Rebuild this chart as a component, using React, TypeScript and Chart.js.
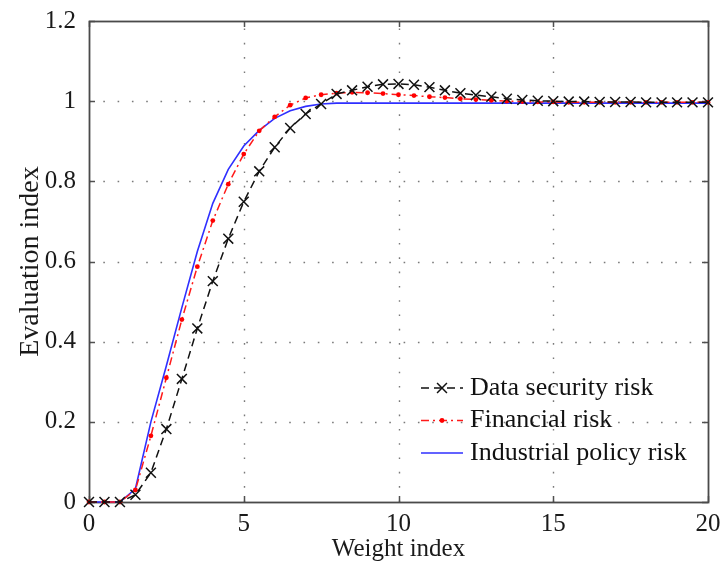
import React, { useEffect, useRef } from 'react';
import { Chart, registerables } from 'chart.js';

Chart.register(...registerables);

const xValues = [
  0, 0.5, 1, 1.5, 2, 2.5, 3, 3.5, 4, 4.5, 5, 5.5, 6, 6.5, 7, 7.5, 8, 8.5, 9, 9.5, 10,
  10.5, 11, 11.5, 12, 12.5, 13, 13.5, 14, 14.5, 15, 15.5, 16, 16.5, 17, 17.5, 18, 18.5, 19, 19.5, 20,
];

const dataSecurityRisk = [
  0, 0, 0, 0.018, 0.073, 0.182, 0.307, 0.433, 0.551, 0.657, 0.749, 0.825, 0.885, 0.933, 0.968, 0.993,
  1.018, 1.027, 1.036, 1.042, 1.043, 1.041, 1.035, 1.027, 1.02, 1.015, 1.011, 1.006, 1.003, 1.001,
  1.0, 0.999, 0.999, 0.998, 0.998, 0.998, 0.997, 0.997, 0.997, 0.997, 0.997,
];

const financialRisk = [
  0, 0, 0, 0.03, 0.165, 0.31, 0.455, 0.587, 0.702, 0.793, 0.868, 0.926, 0.961, 0.99, 1.008, 1.016,
  1.02, 1.022, 1.021, 1.019, 1.016, 1.014, 1.011, 1.009, 1.006, 1.004, 1.002, 1.0, 0.999, 0.998,
  0.998, 0.997, 0.997, 0.997, 0.997, 0.997, 0.997, 0.997, 0.997, 0.997, 0.997,
];

const industrialPolicyRisk = [
  0, 0, 0, 0.033, 0.2, 0.34, 0.485, 0.625, 0.745, 0.83, 0.888, 0.927, 0.957, 0.976, 0.987, 0.993,
  0.995, 0.995, 0.995, 0.995, 0.995, 0.995, 0.995, 0.995, 0.995, 0.995, 0.995, 0.995, 0.995, 0.995,
  0.995, 0.995, 0.995, 0.995, 0.995, 0.995, 0.995, 0.995, 0.995, 0.995, 0.995,
];

const seriesLabels = ['Data security risk', 'Financial risk', 'Industrial policy risk'];
const xTitle = 'Weight index';
const yTitle = 'Evaluation index';

const FONT = '"Liberation Serif", "Times New Roman", serif';

function drawMarker(ctx: CanvasRenderingContext2D, style: string, x: number, y: number, r: number, color: string, bw: number) {
  ctx.save();
  ctx.setLineDash([]);
  ctx.strokeStyle = color;
  ctx.fillStyle = color;
  ctx.lineWidth = bw;
  if (style === 'crossRot') {
    const d = r * Math.SQRT1_2;
    ctx.beginPath();
    ctx.moveTo(x - d, y - d);
    ctx.lineTo(x + d, y + d);
    ctx.moveTo(x - d, y + d);
    ctx.lineTo(x + d, y - d);
    ctx.stroke();
  } else if (style === 'circle' && r > 0) {
    ctx.beginPath();
    ctx.arc(x, y, r, 0, Math.PI * 2);
    ctx.fill();
  }
  ctx.restore();
}

const framePlugin = {
  id: 'frame',
  beforeDatasetsDraw(chart: any) {
    const { ctx, chartArea } = chart;
    const { left, right, top, bottom } = chartArea;
    const xs = chart.scales.x;
    const ys = chart.scales.y;
    ctx.save();
    // dotted grid
    ctx.strokeStyle = '#7a7a7a';
    ctx.lineWidth = 1.4;
    ctx.setLineDash([1.6, 12.7]);
    xs.ticks.forEach((t: any) => {
      const px = Math.round(xs.getPixelForValue(t.value)) + 0.5;
      if (px <= left + 1 || px >= right - 1) return;
      ctx.beginPath();
      ctx.moveTo(px, bottom);
      ctx.lineTo(px, top);
      ctx.stroke();
    });
    ys.ticks.forEach((t: any) => {
      const py = Math.round(ys.getPixelForValue(t.value)) + 0.5;
      if (py <= top + 1 || py >= bottom - 1) return;
      ctx.beginPath();
      ctx.moveTo(left, py);
      ctx.lineTo(right, py);
      ctx.stroke();
    });
    ctx.setLineDash([]);
    // inward ticks
    ctx.strokeStyle = '#505050';
    ctx.lineWidth = 1.5;
    const tl = 6;
    xs.ticks.forEach((t: any) => {
      const px = Math.round(xs.getPixelForValue(t.value)) + 0.5;
      ctx.beginPath();
      ctx.moveTo(px, bottom);
      ctx.lineTo(px, bottom - tl);
      ctx.moveTo(px, top);
      ctx.lineTo(px, top + tl);
      ctx.stroke();
    });
    ys.ticks.forEach((t: any) => {
      const py = Math.round(ys.getPixelForValue(t.value)) + 0.5;
      ctx.beginPath();
      ctx.moveTo(left, py);
      ctx.lineTo(left + tl, py);
      ctx.moveTo(right, py);
      ctx.lineTo(right - tl, py);
      ctx.stroke();
    });
    // box
    ctx.strokeStyle = '#4a4a4a';
    ctx.lineWidth = 1.8;
    ctx.strokeRect(Math.round(left) + 0.5, Math.round(top) + 0.5, Math.round(right - left), Math.round(bottom - top));
    ctx.restore();
  },
  afterDatasetsDraw(chart: any) {
    const { ctx, chartArea } = chart;
    const textX = chartArea.right - 238;
    const row0 = chartArea.bottom - 114;
    const rowGap = 32.5;
    ctx.save();
    chart.data.datasets.forEach((ds: any, i: number) => {
      const y = row0 + i * rowGap;
      const x1 = textX - 49;
      const x2 = textX - 7;
      ctx.save();
      ctx.strokeStyle = ds.borderColor;
      ctx.lineWidth = ds.borderWidth;
      ctx.setLineDash(ds.borderDash || []);
      ctx.beginPath();
      ctx.moveTo(x1, y);
      ctx.lineTo(x2, y);
      ctx.stroke();
      ctx.restore();
      if (ds.pointRadius > 0) {
        drawMarker(ctx, ds.pointStyle, (x1 + x2) / 2, y, ds.pointRadius, ds.pointBorderColor, ds.pointBorderWidth);
      }
      ctx.fillStyle = '#111';
      ctx.font = `26px ${FONT}`;
      ctx.textAlign = 'left';
      ctx.textBaseline = 'middle';
      ctx.fillText(ds.label, textX, y);
    });
    ctx.restore();
  },
};

export default function App() {
  const canvasRef = useRef<HTMLCanvasElement | null>(null);

  useEffect(() => {
    document.body.style.margin = '0';
    const canvas = canvasRef.current;
    if (!canvas) return;
    const mk = (arr: number[]) => xValues.map((x, i) => ({ x, y: arr[i] }));
    const chart = new Chart(canvas, {
      type: 'line',
      data: {
        datasets: [
          {
            label: seriesLabels[0],
            data: mk(dataSecurityRisk),
            borderColor: '#111111',
            borderWidth: 1.5,
            borderDash: [8, 5],
            pointStyle: 'crossRot',
            pointRadius: 7,
            pointBorderColor: '#111111',
            pointBorderWidth: 1.5,
            pointBackgroundColor: '#111111',
            tension: 0,
            clip: false,
          } as any,
          {
            label: seriesLabels[1],
            data: mk(financialRisk),
            borderColor: '#ff1a1a',
            borderWidth: 1.5,
            borderDash: [8, 4, 2, 4],
            pointStyle: 'circle',
            pointRadius: 2.4,
            pointBorderColor: '#ff0000',
            pointBorderWidth: 0,
            pointBackgroundColor: '#ff0000',
            tension: 0,
            clip: false,
          } as any,
          {
            label: seriesLabels[2],
            data: mk(industrialPolicyRisk),
            borderColor: '#2f2fff',
            borderWidth: 1.6,
            borderDash: [],
            pointRadius: 0,
            pointStyle: 'circle',
            pointBorderColor: '#2f2fff',
            pointBorderWidth: 0,
            tension: 0,
            clip: false,
          } as any,
        ],
      },
      options: {
        responsive: false,
        animation: false,
        devicePixelRatio: 1,
        layout: { padding: { left: 0, right: 13, top: 21, bottom: 0 } },
        plugins: {
          legend: { display: false },
          tooltip: { enabled: false },
        },
        scales: {
          x: {
            type: 'linear',
            min: 0,
            max: 20,
            grid: { display: false, drawTicks: false },
            border: { display: false },
            ticks: {
              stepSize: 5,
              padding: 7,
              color: '#1a1a1a',
              font: { family: FONT, size: 25 },
              maxRotation: 0,
            },
            title: {
              display: true,
              text: xTitle,
              color: '#1a1a1a',
              font: { family: FONT, size: 25 },
              padding: { top: 0, bottom: 0 },
            },
            afterFit(scale: any) {
              scale.height = 62;
              scale.paddingLeft = 0;
              scale.paddingRight = 0;
              scale.paddingTop = 0;
              scale.paddingBottom = 0;
            },
          },
          y: {
            type: 'linear',
            min: 0,
            max: 1.2,
            grid: { display: false, drawTicks: false },
            border: { display: false },
            ticks: {
              stepSize: 0.2,
              padding: 13,
              color: '#1a1a1a',
              font: { family: FONT, size: 25 },
              callback: (v: any) => String(Math.round(Number(v) * 10) / 10),
            },
            title: {
              display: true,
              text: yTitle,
              color: '#1a1a1a',
              font: { family: FONT, size: 28 },
              padding: { top: 14, bottom: 0 },
            },
            afterFit(scale: any) {
              scale.width = 89;
              scale.paddingLeft = 0;
              scale.paddingRight = 0;
              scale.paddingTop = 0;
              scale.paddingBottom = 0;
            },
          },
        },
      },
      plugins: [framePlugin],
    });
    return () => chart.destroy();
  }, []);

  return (
    <div style={{ width: 721, height: 564, background: '#fff' }}>
      <canvas ref={canvasRef} width={721} height={564} style={{ display: 'block', width: 721, height: 564 }} />
    </div>
  );
}
